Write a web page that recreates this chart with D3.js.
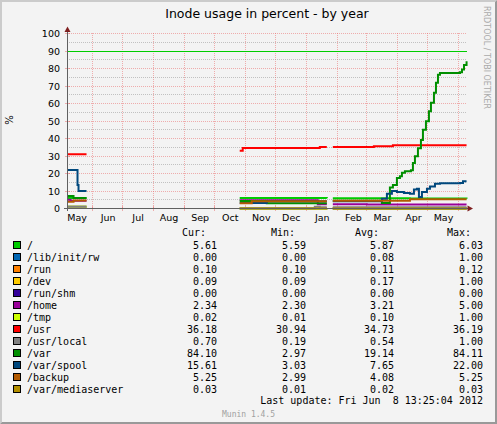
<!DOCTYPE html>
<html>
<head>
<meta charset="utf-8">
<script src="https://cdn.jsdelivr.net/npm/d3@7"></script>
<style>
  body { margin: 0; background: #fff; }
  text { font-family: "DejaVu Sans", sans-serif; fill: #000; }
  .mono { font-family: "DejaVu Sans Mono", monospace; white-space: pre; }
</style>
</head>
<body>
<svg id="chart" width="497" height="424"></svg>
<script>
// ---- data ----
const GAP1 = "2011-05-27", GAP2 = "2012-01-22", END = "2012-06-08T13:25";

const names = ["/", "/lib/init/rw", "/run", "/dev", "/run/shm", "/home", "/tmp",
  "/usr", "/usr/local", "/var", "/var/spool", "/backup", "/var/mediaserver"];
const colors = ["#00CC00", "#0066B3", "#FF8000", "#FFCC00", "#330099", "#990099", "#CCFF00",
  "#FF0000", "#808080", "#008F00", "#00487D", "#B35A00", "#B38F00"];
const curVals = [5.61, 0.00, 0.10, 0.09, 0.00, 2.34, 0.02, 36.18, 0.70, 84.10, 15.61, 5.25, 0.03];
const minVals = [5.59, 0.00, 0.10, 0.09, 0.00, 2.30, 0.01, 30.94, 0.19, 2.97, 3.03, 2.99, 0.01];
const avgVals = [5.87, 0.08, 0.11, 0.17, 0.00, 3.21, 0.10, 34.73, 0.54, 19.14, 7.65, 4.08, 0.02];
const maxVals = [6.03, 1.00, 0.12, 1.00, 0.00, 5.00, 1.00, 36.19, 1.00, 84.11, 22.00, 5.25, 0.03];

const rootSeries = [["2011-05-07", 6.0], ["2011-05-26", 6.0], [GAP1, null],
  ["2011-10-26", 5.95], ["2012-01-21", 5.9], [GAP2, null],
  ["2012-01-27", 5.9], ["2012-04-13", 5.7], [END, 5.61]];
const rwSeries = [["2011-05-07", 1.0], ["2011-05-26", 1.0], [GAP1, null],
  ["2011-10-26", 0], ["2012-01-21", 0], [GAP2, null], ["2012-01-27", 0], [END, 0]];
const runSeries = [["2012-01-27", 0.12], ["2012-04-01", 0.10], [END, 0.10]];
const devSeries = [["2011-05-07", 1.0], ["2011-05-26", 1.0], [GAP1, null],
  ["2011-10-26", 0.09], ["2012-01-21", 0.09], [GAP2, null], ["2012-01-27", 0.09], [END, 0.09]];
const shmSeries = [["2012-01-27", 0], [END, 0]];
const homeSeries = [["2011-05-07", 5.0], ["2011-05-10", 4.4], ["2011-05-26", 4.4], [GAP1, null],
  ["2011-10-26", 4.7], ["2012-01-12", 2.4], ["2012-01-21", 2.4], [GAP2, null],
  ["2012-01-27", 2.4], ["2012-03-01", 2.34], [END, 2.34]];
const tmpSeries = [["2011-05-07", 1.0], ["2011-05-26", 1.0], [GAP1, null],
  ["2011-10-26", 0.01], ["2012-01-21", 0.01], [GAP2, null], ["2012-01-27", 0.02], [END, 0.02]];
const usrSeries = [["2011-05-07", 31.0], ["2011-05-26", 31.0], [GAP1, null],
  ["2011-10-26", 33.0], ["2011-10-29", 34.6], ["2012-01-14", 35.1], ["2012-01-21", 35.1], [GAP2, null],
  ["2012-01-27", 35.1], ["2012-03-08", 35.6], ["2012-03-27", 36.18], [END, 36.18]];
const usrLocalSeries = [["2011-05-07", 1.0], ["2011-05-26", 1.0], [GAP1, null],
  ["2011-10-26", 0.19], ["2012-01-09", 1.0], ["2012-01-14", 0.7], ["2012-01-21", 0.7], [GAP2, null],
  ["2012-01-27", 0.7], [END, 0.7]];
const varSeries = [["2011-05-07", 7.2], ["2011-05-13", 6.0], ["2011-05-26", 6.0], [GAP1, null],
  ["2011-10-26", 4.3], ["2011-11-22", 3.0], ["2012-01-21", 3.0], [GAP2, null],
  ["2012-01-27", 4.4], ["2012-03-16", 3.1], ["2012-03-24", 12.0], ["2012-03-27", 13.5],
  ["2012-03-31", 17.5], ["2012-04-03", 18.5], ["2012-04-05", 20.5], ["2012-04-08", 21.3],
  ["2012-04-14", 21.8], ["2012-04-16", 26.0], ["2012-04-18", 29.8], ["2012-04-21", 34.5],
  ["2012-04-24", 39.2], ["2012-04-26", 45.0], ["2012-04-29", 49.8], ["2012-05-02", 55.6],
  ["2012-05-04", 60.4], ["2012-05-07", 66.1], ["2012-05-09", 71.8], ["2012-05-11", 76.5],
  ["2012-05-13", 77.5], ["2012-06-02", 77.8], ["2012-06-04", 79.5], ["2012-06-06", 82.0], [END, 84.1]];
const spoolSeries = [["2011-05-07", 22.0], ["2011-05-17", 13.5], ["2011-05-18", 10.0], ["2011-05-26", 10.0], [GAP1, null],
  ["2011-10-26", 3.2], ["2011-11-22", 4.2], ["2012-01-21", 4.2], [GAP2, null],
  ["2012-01-27", 4.2], ["2012-03-16", 5.6], ["2012-03-21", 8.5], ["2012-03-26", 10.0],
  ["2012-03-31", 9.4], ["2012-04-07", 8.8], ["2012-04-13", 8.5], ["2012-04-17", 10.8],
  ["2012-04-20", 11.3], ["2012-04-22", 6.6], ["2012-04-25", 9.4], ["2012-04-30", 11.3],
  ["2012-05-03", 12.6], ["2012-05-08", 14.2], ["2012-05-13", 14.5], ["2012-06-02", 14.6],
  ["2012-06-05", 15.61], [END, 15.61]];
const backupSeries = [["2011-05-07", 3.8], ["2011-05-13", 4.6], ["2011-05-26", 4.6], [GAP1, null],
  ["2011-10-26", 3.0], ["2011-11-07", 4.2], ["2012-01-21", 4.2], [GAP2, null],
  ["2012-01-27", 4.4], ["2012-04-13", 5.25], [END, 5.25]];
const mediaSeries = [["2011-10-26", 0.01], ["2012-01-21", 0.02], [GAP2, null],
  ["2012-01-27", 0.02], ["2012-04-01", 0.03], [END, 0.03]];

const series = [rootSeries, rwSeries, runSeries, devSeries, shmSeries, homeSeries, tmpSeries,
  usrSeries, usrLocalSeries, varSeries, spoolSeries, backupSeries, mediaSeries];

const yTicks = [0, 10, 20, 30, 40, 50, 60, 70, 80, 90, 100];
const yMinor = [5, 15, 25, 35, 45, 55, 65, 75, 85, 95];
const hrule = 90;

// ---- drawing ----
const svg = d3.select("#chart");
const W = 497, H = 424;
const parse = s => new Date(s.length === 10 ? s + "T00:00" : s);

svg.append("rect").attr("width", W).attr("height", H).attr("fill", "#F3F3F3");
svg.append("path").attr("d", "M0,0H497L495,2H2V422L0,424Z").attr("fill", "#CBCBCB");
svg.append("path").attr("d", "M497,0V424H0L2,422H495V2Z").attr("fill", "#999999");

var x = d3.scaleTime()
  .domain([new Date(2011, 4, 6, 12), new Date(2012, 5, 9)])
  .range([67, 467]);
var y = d3.scaleLinear().domain([0, 100]).range([208.5, 33.5]);
const crisp = v => Math.floor(v) + 0.5;

// grid
var grid = svg.append("g");
grid.selectAll(".minor").data(yMinor).join("line")
  .attr("x1", 67).attr("x2", 467)
  .attr("y1", d => crisp(y(d))).attr("y2", d => crisp(y(d)))
  .attr("stroke", "rgba(143,143,143,0.5)").attr("stroke-dasharray", "1,1");
grid.selectAll(".major").data(yTicks.slice(1)).join("line")
  .attr("x1", 67).attr("x2", 467)
  .attr("y1", d => crisp(y(d))).attr("y2", d => crisp(y(d)))
  .attr("stroke", "rgba(233,102,102,0.5)").attr("stroke-dasharray", "1,1");
var months = d3.timeMonth.range(new Date(2011, 5, 1), new Date(2012, 5, 2));
grid.selectAll(".vgrid").data(months).join("line")
  .attr("x1", d => crisp(x(d))).attr("x2", d => crisp(x(d)))
  .attr("y1", 33).attr("y2", 208)
  .attr("stroke", "rgba(233,102,102,0.5)").attr("stroke-dasharray", "1,1");
// small ticks on the axes
grid.selectAll(".ytick").data(yTicks.slice(1)).join("line")
  .attr("x1", 65).attr("x2", 70)
  .attr("y1", d => crisp(y(d))).attr("y2", d => crisp(y(d)))
  .attr("stroke", "rgba(233,102,102,0.5)");
grid.selectAll(".xtick").data(months).join("line")
  .attr("x1", d => crisp(x(d))).attr("x2", d => crisp(x(d)))
  .attr("y1", 206).attr("y2", 211)
  .attr("stroke", "rgba(233,102,102,0.5)");

// warning rule
svg.append("line")
  .attr("x1", 67).attr("x2", 467)
  .attr("y1", crisp(y(hrule))).attr("y2", crisp(y(hrule)))
  .attr("stroke", "#00CC00");

// series lines
var line = d3.line()
  .defined(d => d[1] !== null)
  .x(d => x(parse(d[0])))
  .y(d => y(d[1]))
  .curve(d3.curveStepAfter);

svg.append("g").selectAll("path").data(series).join("path")
  .attr("d", line)
  .attr("fill", "none")
  .attr("stroke", (d, i) => colors[i])
  .attr("stroke-width", 2);

// axes
svg.append("line").attr("x1", 64).attr("x2", 468).attr("y1", 208.5).attr("y2", 208.5).attr("stroke", "#606060");
svg.append("line").attr("x1", 67.5).attr("x2", 67.5).attr("y1", 211).attr("y2", 31).attr("stroke", "#606060");
svg.append("path").attr("d", "M67.5,26.5L64.5,32L70.5,32Z").attr("fill", "#7F1F1F");
svg.append("path").attr("d", "M473,208.5L467.5,205.5L467.5,211.5Z").attr("fill", "#7F1F1F");

var yAxis = svg.append("g").attr("transform", "translate(67,0)")
  .call(d3.axisLeft(y).tickValues(yTicks).tickSize(0).tickPadding(7));
yAxis.select(".domain").remove();
yAxis.selectAll("text").style("font-family", "DejaVu Sans").style("font-size", "9.5px").attr("fill", "#000");

var labelDates = d3.timeMonth.range(new Date(2011, 4, 1), new Date(2012, 5, 1)).map(d => d3.timeDay.offset(d, 15));
var xAxis = svg.append("g").attr("transform", "translate(0,208.5)")
  .call(d3.axisBottom(x).tickValues(labelDates).tickFormat(d3.timeFormat("%b")).tickSize(0).tickPadding(6));
xAxis.select(".domain").remove();
xAxis.selectAll("text").style("font-family", "DejaVu Sans").style("font-size", "9.5px").attr("fill", "#000");

// titles
svg.append("text").attr("x", 267).attr("y", 18).attr("text-anchor", "middle")
  .style("font-size", "12.5px").text("Inode usage in percent - by year");
svg.append("text").attr("transform", "translate(13,120) rotate(-90)").attr("text-anchor", "middle")
  .style("font-size", "10px").text("%");
svg.append("text").attr("transform", "translate(484,6) rotate(90)")
  .style("font-size", "8px").style("fill", "#AAAAAA").text("RRDTOOL / TOBI OETIKER");

// legend
var colX = [217, 306, 394, 483];
var headers = [["Cur:", 182], ["Min:", 271], ["Avg:", 355], ["Max:", 447]];
svg.append("g").selectAll("text").data(headers).join("text")
  .attr("class", "mono").attr("x", d => d[1]).attr("y", 236)
  .style("font-size", "10px").text(d => d[0]);

var rows = svg.append("g").selectAll("g").data(names).join("g")
  .attr("transform", (d, i) => "translate(0," + (249 + 12 * i) + ")");
rows.append("rect")
  .attr("x", 13.5).attr("y", -7.5).attr("width", 7).attr("height", 7)
  .attr("fill", (d, i) => colors[i]).attr("stroke", "#000");
rows.append("text").attr("class", "mono").attr("x", 27).style("font-size", "10px").text(d => d);
[curVals, minVals, avgVals, maxVals].forEach((vals, c) => {
  rows.append("text").attr("class", "mono")
    .attr("x", colX[c]).attr("text-anchor", "end").style("font-size", "10px")
    .text((d, i) => vals[i].toFixed(2));
});

svg.append("text").attr("class", "mono").attr("x", 483).attr("y", 404).attr("text-anchor", "end")
  .style("font-size", "10px").text("Last update: Fri Jun  8 13:25:04 2012");
svg.append("text").attr("class", "mono").attr("x", 248.5).attr("y", 417).attr("text-anchor", "middle")
  .style("font-size", "8px").style("fill", "#A0A0A0").text("Munin 1.4.5");
</script>
</body>
</html>
